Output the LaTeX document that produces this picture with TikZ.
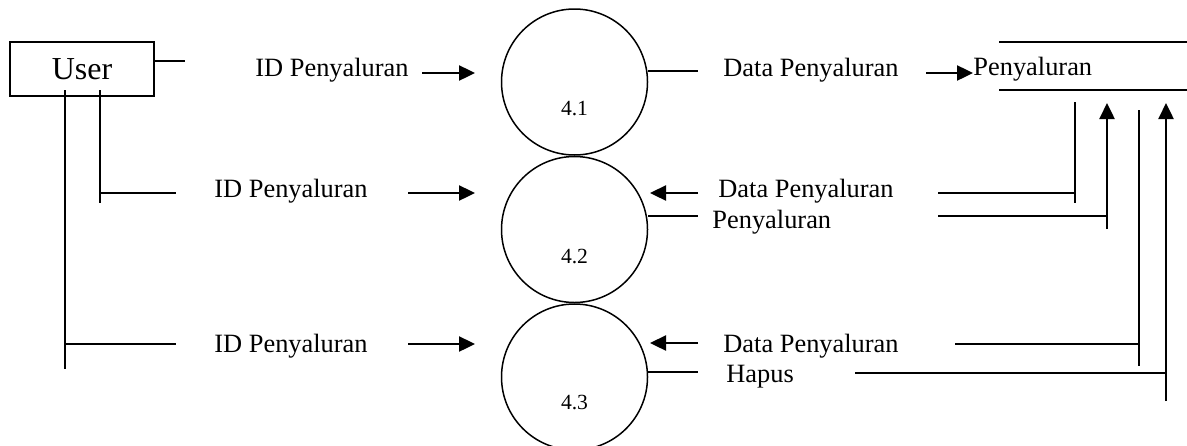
\documentclass[tikz,border=0pt]{standalone}
\usepackage{fontspec}
\setmainfont{Liberation Serif}
\usetikzlibrary{arrows.meta,calc}
\begin{document}
\begin{tikzpicture}[x=0.5pt,y=-0.5pt,
  ln/.style={line width=0.75pt},
  ar/.style={line width=1.2pt,-{Triangle[length=8pt,width=7.5pt]}},
  proc/.style={circle,draw,line width=0.75pt,minimum size=73pt,inner sep=0pt},
  lbl/.style={anchor=base west,inner sep=0pt,font=\fontsize{13.2}{15}\selectfont},
  num/.style={anchor=base,inner sep=0pt,font=\fontsize{10.8}{12}\selectfont},
  ent/.style={draw,line width=0.8pt,minimum width=72pt,minimum height=27pt,inner sep=0pt,font=\fontsize{16}{18}\selectfont}]
\useasboundingbox (0,0) rectangle (1187,445);
% entity
\node[ent] (user) at (82,69) {User};
% processes
\node[proc] (c1) at (574.5,82) {};
\node[proc] (c2) at (574.5,229.5) {};
\node[proc] (c3) at (574.5,377) {};
\node[num] (n1) at (574.5,115) {4.1};
\node[num] (n2) at (574.5,263) {4.2};
\node[num] (n3) at (574.5,409) {4.3};
% data store
\coordinate (dstl) at (999,42);
\coordinate (dstr) at (1187,42);
\coordinate (dsbl) at (999,90);
\coordinate (dsbr) at (1187,90);
\draw[ln] (dstl) -- (dstr);
\draw[ln] (dsbl) -- (dsbr);
\node[lbl] (ds) at (973,75) {Penyaluran};
% labels
\node[lbl] (l1) at (255,76) {ID Penyaluran};
\node[lbl] (l2) at (214,197) {ID Penyaluran};
\node[lbl] (l3) at (214,352) {ID Penyaluran};
\node[lbl] (r1) at (723,76) {Data Penyaluran};
\node[lbl] (r2a) at (718,197) {Data Penyaluran};
\node[lbl] (r2b) at (712,228) {Penyaluran};
\node[lbl] (r3a) at (723,352) {Data Penyaluran};
\node[lbl] (r3b) at (726,382) {Hapus};
% left side connectors
\coordinate (u1) at (185,61);
\draw[ln] (user.east |- u1) -- (u1);
\coordinate (v1t) at (65,90);
\coordinate (v1b) at (65,369);
\coordinate (h3e) at (176,344);
\draw[ln] (v1t) -- (v1b);
\draw[ln] (v1t |- h3e) -- (h3e);
\coordinate (v2t) at (100,90);
\coordinate (v2b) at (100,203);
\coordinate (h2e) at (176,193);
\draw[ln] (v2t) -- (v2b);
\draw[ln] (v2t |- h2e) -- (h2e);
% arrows into processes
\coordinate (a1s) at (422,73);
\coordinate (a2s) at (408,193);
\coordinate (a3s) at (408,344);
\draw[ar] (a1s) -- (475,73);
\draw[ar] (a2s) -- (475,193);
\draw[ar] (a3s) -- (475,344);
% process 4.1 out
\coordinate (o1) at (698,71);
\draw[ln] (c1.east |- o1) -- (o1);
\coordinate (s1) at (926,73);
\draw[ar] (s1) -- (ds.west |- s1);
% process 4.2
\coordinate (i2) at (698,193);
\draw[ar] (i2) -- (650,193);
\coordinate (o2) at (698,216);
\draw[ln] (c2.east |- o2) -- (o2);
% process 4.3
\coordinate (i3) at (698,343);
\draw[ar] (i3) -- (650,343);
\coordinate (o3) at (698,372);
\draw[ln] (c3.east |- o3) -- (o3);
% right side connectors
\coordinate (x1t) at (1075,102);
\coordinate (x1b) at (1075,203);
\coordinate (h21) at (938,193);
\draw[ln] (x1t) -- (x1b);
\draw[ln] (h21) -- (x1t |- h21);
\coordinate (x2t) at (1107,103);
\coordinate (x2b) at (1107,229);
\coordinate (h22) at (938,216);
\draw[ar] (x2b) -- (x2t);
\draw[ln] (h22) -- (x2t |- h22);
\coordinate (x3t) at (1139,110);
\coordinate (x3b) at (1139,366);
\coordinate (h31) at (955,344);
\draw[ln] (x3t) -- (x3b);
\draw[ln] (h31) -- (x3t |- h31);
\coordinate (x4t) at (1166,103);
\coordinate (x4b) at (1166,401);
\coordinate (h32) at (855,373);
\draw[ar] (x4b) -- (x4t);
\draw[ln] (h32) -- (x4t |- h32);
\end{tikzpicture}
\end{document}
